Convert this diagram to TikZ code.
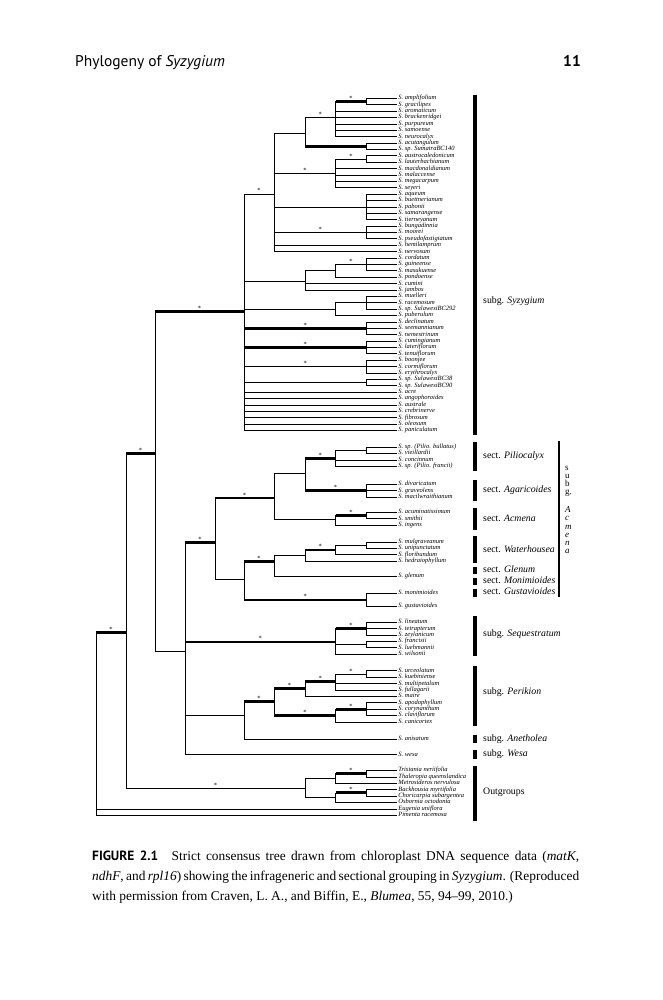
\documentclass[tikz,border=0pt]{standalone}
\usepackage{fontspec}
\setmainfont{Liberation Serif}
\newfontfamily\headfont{PT Sans}
\begin{document}
\begin{tikzpicture}[x=1pt,y=-1pt,
   branch/.style={line width=0.7pt},
   strong/.style={line width=2.8pt},
   tip/.style={anchor=west,inner xsep=1.2pt,inner ysep=0.2pt,text height=4.2pt,text depth=1.3pt,
     font=\fontsize{6.5}{6.5}\selectfont\itshape},
   supp/.style={above,inner sep=0.8pt,font=\fontsize{6.5}{6.5}\selectfont},
   groupbar/.style={line width=3.4pt},
   grouplabel/.style={anchor=west,inner sep=0pt,text height=6.8pt,text depth=2.2pt,
     font=\fontsize{9.8}{10}\selectfont}]
   \useasboundingbox (0,0) rectangle (662,1000);

   \node[anchor=base west,inner sep=0pt,font=\headfont\fontsize{15.5}{18}\selectfont]
     (head) at (75,67) {Phylogeny of \textit{Syzygium}};
   \node[anchor=base east,inner sep=0pt,font=\headfont\bfseries\fontsize{15.5}{18}\selectfont]
     (page) at (581,67) {11};

   \begin{scope}[y=-1.09pt,yshift=8.82pt]
   % inner nodes of the tree
   \foreach \n/\x/\y in
     {root/96/588, n1/126/588, n2/155/424, nS/244/294,
      a/274.2/186, a1/304.9/130, a11/335.6/116, a111/366.3/101.2, a12/366.3/142.3,
      a2/335.6/167, a21/366.3/154, a3/366.3/197.9, a4/366.3/221.4,
      b/304.9/266, bb/335.6/256.5, bbb/366.3/250.7, c/335.6/291.7, cc/366.3/285.8,
      d/366.3/309.3, e/366.3/326.8, f/366.3/344.4, g/366.3/359,
      n3/185/606, n4/215/506, n5/274.2/465, n7/304.9/442,
      pil/335.6/428.5, pil1/366.3/421.2, aga/366.3/458.3, acm/335.6/485, acm1/366.3/481,
      n6/244/540, w/274.2/523, w1/304.9/518, w11/335.6/512.6, w111/366.3/508.2,
      mg/366.3/558.5, q/335.6/597, q1/366.3/584.9, q2/366.3/599.5,
      r/244/664, r1/274.2/651.7, r11/304.9/639.5, r111/335.6/633, r1111/366.3/626.5,
      r12/335.6/664.5, r121/366.3/658.7,
      og/304.9/731.1, og1/335.6/722.3, og11/366.3/718, og2/335.6/739.9, og21/366.3/735.5}
     \coordinate (\n) at (\x,\y);

   % tips
   \foreach \t [count=\i] in
     {S. amplifolium, S. gracilipes, S. aromaticum, S. brackenridgei, S. purpureum,
      S. samoense, S. neurocalyx, S. acutangulum, S. sp. SumatraBC140,
      S. austrocaledonicum, S. lauterbachianum, S. macdonaldianum, S. malaccense,
      S. megacarpum, S. seyeri, S. aqueum, S. buettnerianum, S. pabonii,
      S. samarangense, S. tierneyanum, S. bungadinnia, S. moorei,
      S. pseudofastigiatum, S. hemilamprum, S. nervosum, S. cordatum, S. guineense,
      S. masukuense, S. pondoense, S. cumini, S. jambos, S. muelleri, S. racemosum,
      S. sp. SulawesiBC292, S. puberulum, S. declinatum, S. seemannianum,
      S. nemestrinum, S. cumingianum, S. lateriflorum, S. tenuiflorum, S. boonjee,
      S. cormiflorum, S. erythrocalyx, S. sp. SulawesiBC38, S. sp. SulawesiBC90,
      S. acre, S. angophoroides, S. australe, S. crebrinerve, S. fibrosum,
      S. oleosum, S. paniculatum}
     \node[tip] (s\i) at (397,{98.3+5.86*(\i-1)}) {\t};
   \foreach \t [count=\i] in
     {S. sp. (Pilio. bullatus), S. vieillardii, S. concinnum, S. sp. (Pilio. francii)}
     \node[tip] (p\i) at (397,{418.3+5.86*(\i-1)}) {\t};
   \foreach \t [count=\i] in {S. divaricatum, S. graveolens, S. macilwraithianum}
     \node[tip] (ag\i) at (397,{452.5+5.86*(\i-1)}) {\t};
   \foreach \t [count=\i] in {S. acuminatissimum, S. smithii, S. ingens}
     \node[tip] (ac\i) at (397,{478+5.86*(\i-1)}) {\t};
   \foreach \t [count=\i] in
     {S. mulgraveanum, S. unipunctatum, S. floribundum, S. hedraiophyllum}
     \node[tip] (h\i) at (397,{505.3+5.86*(\i-1)}) {\t};
   \node[tip] (gl1) at (397,537) {S. glenum};
   \node[tip] (mo1) at (397,552.5) {S. monimioides};
   \node[tip] (mo2) at (397,564.5) {S. gustavioides};
   \foreach \t [count=\i] in
     {S. lineatum, S. tetrapterum, S. zeylanicum, S. francisii, S. luehmannii,
      S. wilsonii}
     \node[tip] (sq\i) at (397,{579+5.86*(\i-1)}) {\t};
   \foreach \t [count=\i] in
     {S. urceolatum, S. kuebiniense, S. multipetalum, S. fullagarii, S. maire,
      S. apodophyllum, S. corynanthum, S. claviflorum, S. canicortex}
     \node[tip] (k\i) at (397,{623.5+5.86*(\i-1)}) {\t};
   \node[tip] (an1) at (397,686) {S. anisatum};
   \node[tip] (we1) at (397,700.5) {S. wesa};
   \foreach \t [count=\i] in
     {Tristania neriifolia, Thaleropia queenslandica, Metrosideros nervulosa,
      Backhousia myrtifolia, Choricarpia subargentea, Osbornia octodonta,
      Eugenia uniflora, Pimenta racemosa}
     \node[tip] (o\i) at (397,{715+5.86*(\i-1)}) {\t};

   % branches between inner nodes
   \foreach \p/\c in
     {root/n1, n1/n2, n1/og, n2/nS, n2/n3, nS/a, nS/b, nS/c, nS/d, nS/e, nS/f, nS/g,
      a/a1, a/a2, a/a3, a/a4, a1/a11, a1/a12, a11/a111, a2/a21, b/bb, bb/bbb, c/cc,
      n3/n4, n3/q, n3/r, n4/n5, n4/n6, n5/n7, n5/acm, n7/pil, n7/aga, pil/pil1,
      acm/acm1, n6/w, n6/mg, w/w1, w1/w11, w11/w111, q/q1, q/q2, r/r1, r1/r11,
      r1/r12, r11/r111, r111/r1111, r12/r121, og/og1, og/og2, og1/og11, og2/og21}
     \draw[branch] (\p) |- (\c);
   % branches to the tips
   \foreach \p/\t/\f/\l in
     {a111/s/1/2, a11/s/3/7, a12/s/8/9, a21/s/10/11, a2/s/12/15, a3/s/16/20,
      a4/s/21/23, a/s/24/25, bbb/s/26/28, bb/s/29/29, b/s/30/31, cc/s/32/34,
      c/s/35/35, d/s/36/38, e/s/39/41, f/s/42/44, g/s/45/46, nS/s/47/53,
      pil1/p/1/2, pil/p/3/4, aga/ag/1/3, acm1/ac/1/2, acm/ac/3/3,
      w111/h/1/2, w11/h/3/3, w1/h/4/4, w/gl/1/1, mg/mo/1/2,
      q1/sq/1/3, q2/sq/4/5, q/sq/6/6, r1111/k/1/2, r111/k/3/4, r11/k/5/5,
      r121/k/6/8, r12/k/9/9, r/an/1/1, n3/we/1/1,
      og11/o/1/2, og1/o/3/3, og21/o/4/5, og2/o/6/6, root/o/7/8}
     \foreach \i in {\f,...,\l}
       \draw[branch] (\p) |- (\t\i);

   % well supported branches
   \foreach \p/\c in
     {root/n1, n1/n2, n2/nS, nS/d, nS/e, a1/a12, a11/a111, n3/n4, n3/q, n4/n5,
      n7/pil, n7/aga, acm/acm1, n6/w, n6/mg, w1/w11, q/q1, r/r1, r1/r11, r1/r12,
      r11/r111, r12/r121, og1/og11, og2/og21}
     \draw[strong] (\p |- \c) -- (\c);
   \foreach \p/\c in
     {root/n1, n1/n2, n1/og, n2/nS, nS/a, nS/d, nS/e, nS/f, a/a2, a/a4, a1/a11,
      a11/a111, a2/a21, bb/bbb, n3/n4, n3/q, n4/n5, n7/pil, n7/aga, acm/acm1,
      n6/w, n6/mg, w1/w11, q/q1, r/r1, r1/r11, r1/r12, r11/r111, r111/r1111,
      r12/r121, og1/og11, og2/og21}
     \path (\p |- \c) -- node[supp] {*} (\c);

   % groups
   \foreach \a/\b/\l/\t [count=\i] in
     {95/407/284/{subg. \textit{Syzygium}},
      414/440/427/{sect. \textit{Piliocalyx}},
      448/468/458/{sect. \textit{Agaricoides}},
      474/494/484/{sect. \textit{Acmena}},
      500/525/512.5/{sect. \textit{Waterhousea}},
      528/535/531.5/{sect. \textit{Glenum}},
      538/545/541.5/{sect. \textit{Monimioides}},
      548/555.5/551.5/{sect. \textit{Gustavioides}},
      573/610/590/{subg. \textit{Sequestratum}},
      619/674/643/{subg. \textit{Perikion}},
      682/690/686/{subg. \textit{Anetholea}},
      696/704/700/{subg. \textit{Wesa}},
      711/761/735/{Outgroups}}
   {
     \draw[groupbar] (475,\a) -- (475,\b);
     \node[grouplabel] (grp\i) at (483,\l) {\t};
   }
   \draw[line width=1.8pt] (559,413) -- (559,555.5);
   \end{scope}

   \node[anchor=north west,inner sep=0pt,align=left,font=\fontsize{9}{8.1}\selectfont]
     (acmena) at (565,466) {s\\u\\b\\g.\\[10pt]\textit{A}\\\textit{c}\\\textit{m}\\\textit{e}\\\textit{n}\\\textit{a}};

   \node[anchor=north west,inner sep=0pt,text width=487pt,align=justify,
     font=\fontsize{13.4}{20}\selectfont] (caption) at (92,851)
     {{\headfont\bfseries FIGURE 2.1}\quad Strict consensus tree drawn from chloroplast
      DNA sequence data (\textit{matK},\linebreak \textit{ndhF}, and \textit{rpl16})
      showing the infrageneric and sectional grouping in \textit{Syzygium}.
      (Reproduced\linebreak with permission from Craven, L. A., and Biffin, E.,
      \textit{Blumea}, 55, 94--99, 2010.)};
\end{tikzpicture}
\end{document}
